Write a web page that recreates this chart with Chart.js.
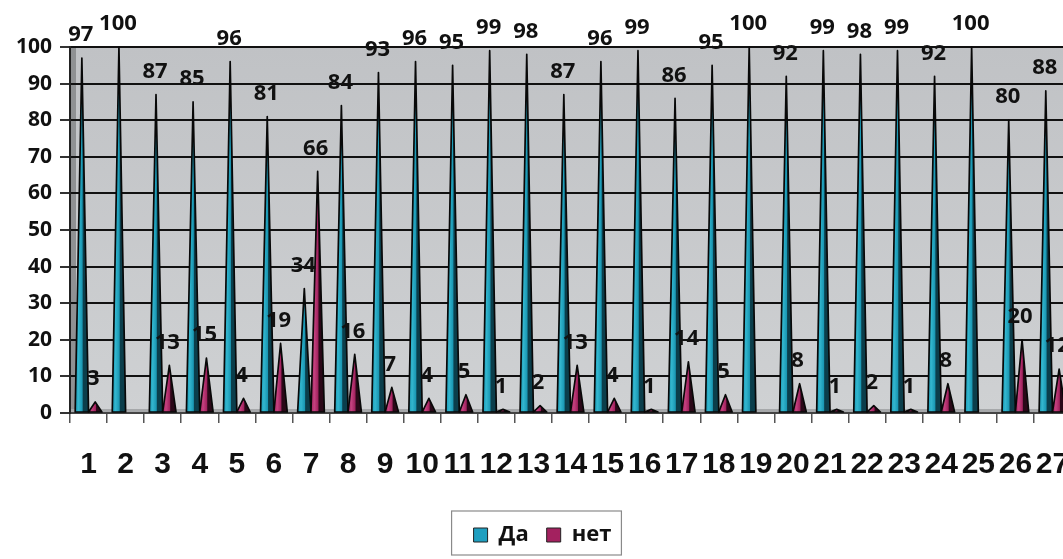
<!DOCTYPE html>
<html><head><meta charset="utf-8">
<script src="https://cdn.jsdelivr.net/npm/chart.js@4.4.0/dist/chart.umd.min.js"></script>
<style>
html,body{margin:0;padding:0;background:#fff;overflow:hidden;}
#wrap{width:1075px;height:559px;position:relative;}
</style></head>
<body><div id="wrap"><canvas id="c" width="1075" height="559"></canvas></div>
<script>
const categories = ['1','2','3','4','5','6','7','8','9','10','11','12','13','14','15','16','17','18','19','20','21','22','23','24','25','26','27'];
const daValues  = [97,100,87,85,96,81,34,84,93,96,95,99,98,87,96,99,86,95,100,92,99,98,99,92,100,80,88];
const netValues = [3,0,13,15,4,19,66,16,7,4,5,1,2,13,4,1,14,5,0,8,1,2,1,8,0,20,12];
const seriesNames = ['Да','нет'];
const yMin = 0, yMax = 100, yStep = 10;

const coneStyles = [
  {light:'#33b6ce', mid:'#1a98b4', dark:'#0b3e4b'},
  {light:'#c4427f', mid:'#a3225f', dark:'#2a0818'}
];

function drawCone(ctx, x, top, base, w, s) {
  const l = x - w/2, r = x + w/2;
  const g = ctx.createLinearGradient(l, 0, r, 0);
  g.addColorStop(0, s.mid); g.addColorStop(0.25, s.light); g.addColorStop(0.52, s.mid);
  g.addColorStop(0.6, s.dark); g.addColorStop(1, s.dark);
  ctx.beginPath(); ctx.moveTo(l, base); ctx.lineTo(x, top); ctx.lineTo(r, base); ctx.closePath();
  ctx.fillStyle = g; ctx.fill();
  ctx.strokeStyle = '#080808'; ctx.lineWidth = 1.7; ctx.lineJoin = 'round'; ctx.stroke();
}

const conePlugin = {
  id: 'cones',
  beforeDraw(chart) {
    const {ctx, chartArea: a} = chart;
    ctx.save();
    const g = ctx.createLinearGradient(0, a.top, 0, a.bottom);
    g.addColorStop(0, '#c0c2c5'); g.addColorStop(1, '#cfd1d3');
    ctx.fillStyle = g;
    ctx.fillRect(a.left, a.top, a.right - a.left, a.bottom - a.top);
    ctx.fillStyle = '#8f9193';
    ctx.fillRect(a.left, a.top, 6, a.bottom - a.top);
    ctx.fillStyle = '#a6a8aa';
    ctx.fillRect(a.left, a.bottom - 4, a.right - a.left, 4);
    ctx.restore();
  },
  beforeDatasetDraw() { return false; },
  afterDatasetsDraw(chart) {
    const ctx = chart.ctx;
    ctx.save();
    chart.data.datasets.forEach((ds, di) => {
      const meta = chart.getDatasetMeta(di);
      meta.data.forEach((bar, i) => {
        const v = ds.data[i];
        if (!v) return;
        const p = bar.getProps(['x','y','base','width'], true);
        drawCone(ctx, p.x, p.y, p.base, p.width, coneStyles[di]);
      });
    });
    ctx.font = "bold 22px 'Open Sans', sans-serif";
    ctx.textAlign = 'center'; ctx.textBaseline = 'middle'; ctx.fillStyle = '#111';
    chart.data.datasets.forEach((ds, di) => {
      const meta = chart.getDatasetMeta(di);
      meta.data.forEach((bar, i) => {
        const v = ds.data[i];
        if (!v) return;
        const p = bar.getProps(['x','y'], true);
        ctx.fillText(String(v), p.x - (di ? 2 : 1), p.y - 23);
      });
    });
    ctx.restore();
  },
  afterDraw(chart) {
    const lg = chart.legend, hb = lg.legendHitBoxes;
    if (!hb || !hb.length) return;
    const ctx = chart.ctx;
    const last = hb[hb.length - 1];
    const left = hb[0].left - 22, right = last.left + last.width + 10;
    ctx.save();
    ctx.strokeStyle = '#8a8a8a'; ctx.lineWidth = 1.2;
    ctx.strokeRect(left, lg.top + 5, right - left, lg.bottom - lg.top - 6);
    ctx.restore();
  }
};

new Chart(document.getElementById('c'), {
  type: 'bar',
  data: {
    labels: categories,
    datasets: [
      {label: seriesNames[0], data: daValues, backgroundColor: '#1f9fc0', borderColor: '#222', borderWidth: 1},
      {label: seriesNames[1], data: netValues, backgroundColor: '#a3215f', borderColor: '#222', borderWidth: 1}
    ]
  },
  options: {
    responsive: false,
    animation: false,
    events: [],
    layout: {padding: {left: 14, right: 4, top: 47, bottom: 3}},
    datasets: {bar: {categoryPercentage: 0.72, barPercentage: 1.0}},
    plugins: {
      tooltip: {enabled: false},
      legend: {
        position: 'bottom',
        labels: {
          font: {family: "'Open Sans', sans-serif", size: 22, weight: 'bold'},
          color: '#111', boxWidth: 14, boxHeight: 14, padding: 18
        }
      }
    },
    scales: {
      x: {
        afterFit(s) { s.height = 93; s.paddingLeft = 0; s.paddingRight = 0; },
        grid: {drawOnChartArea: false, drawTicks: true, tickLength: 10, color: '#555', lineWidth: 1.5},
        border: {display: true, color: '#444', width: 2},
        ticks: {
          padding: 24, color: '#111', maxRotation: 0, autoSkip: false,
          font: {family: "'Liberation Sans', Arial, sans-serif", size: 30, weight: 'bold'}
        }
      },
      y: {
        min: yMin, max: yMax,
        afterFit(s) { s.width = 56; },
        grid: {color: '#111', lineWidth: 2, tickColor: '#333', tickLength: 10},
        border: {display: true, color: '#222', width: 2},
        ticks: {
          stepSize: yStep, padding: 8, color: '#111',
          font: {family: "'Open Sans', sans-serif", size: 21, weight: 'bold'}
        }
      }
    }
  },
  plugins: [conePlugin]
});
</script>
</body></html>
